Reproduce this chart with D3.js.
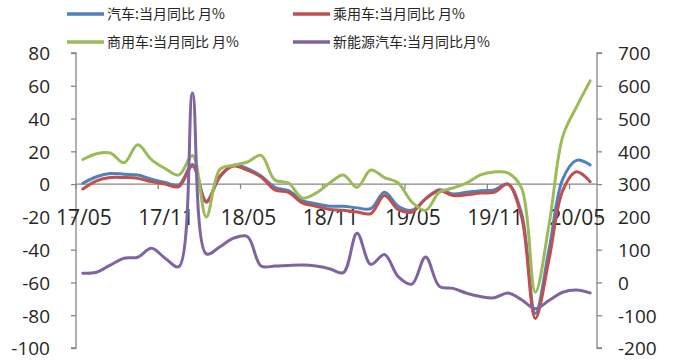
<!DOCTYPE html>
<html>
<head>
<meta charset="utf-8">
<script src="https://cdn.jsdelivr.net/npm/d3@7"></script>
<style>
  html, body { margin: 0; padding: 0; background: #fff; }
  svg { display: block; }
</style>
</head>
<body>
<svg id="chart" width="675" height="360"></svg>
<script>
// Monthly year-on-year growth (%), 2017/05 – 2020/06
const months = [
  "17/05","17/06","17/07","17/08","17/09","17/10","17/11","17/12",
  "18/01","18/02","18/03","18/04","18/05","18/06","18/07","18/08",
  "18/09","18/10","18/11","18/12","19/01","19/02","19/03","19/04",
  "19/05","19/06","19/07","19/08","19/09","19/10","19/11","19/12",
  "20/01","20/02","20/03","20/04","20/05","20/06"
];

// 汽车 (all vehicles) – left axis
const autoYoY = [
  0.5, 4.5, 6.5, 6, 5.5, 3, 1, -0.5,
  12, -10.5, 4.5, 11.5, 9.5, 5, -2, -4,
  -10, -12, -13.5, -13.5, -14.5, -15, -5, -13.5,
  -16, -9, -3.5, -6, -5, -4, -3.5, 0,
  -18, -79, -40, 3, 14.5, 11.7
];

// 乘用车 (passenger cars) – left axis
const passengerYoY = [
  -3, 2, 4, 4, 3.5, 1.5, 0, -1.5,
  11, -11, 5, 11, 8.5, 4.3, -3.5, -5,
  -11.5, -13.5, -15.5, -16, -17, -18, -7, -15.5,
  -17, -9, -4, -7, -6.5, -5.5, -5, 0,
  -20, -82, -46, -4, 7.5, 1.5
];

// 商用车 (commercial vehicles) – left axis
const commercialYoY = [
  15, 18.5, 19, 13, 24, 15, 9.5, 5.5,
  17.5, -20, 9, 11.5, 13.5, 17.5, 2.5, 0.7,
  -8.5, -5.5, 0.7, 5.6, -2, 8.6, 4, 0.7,
  -11, -16, -5, -2.4, 0.7, 5.6, 7.4, 6.8,
  -2.4, -66, -25, 29, 47, 63
];

// 新能源汽车 (new energy vehicles) – right axis
const nevYoY = [
  28, 31, 53, 74, 77, 104, 74, 48,
  578, 87, 109, 135, 140, 50, 50, 52,
  53, 50, 42, 30, 150, 55, 85, 18,
  -5, 78, -12, -18, -33, -43, -47, -32,
  -53, -80, -55, -30, -23, -32
];

const leftTicks  = [-100, -80, -60, -40, -20, 0, 20, 40, 60, 80];
const rightTicks = [-200, -100, 0, 100, 200, 300, 400, 500, 600, 700];
const xTickLabels = ["17/05","17/11","18/05","18/11","19/05","19/11","20/05"];

const seriesNames = [
  "汽车:当月同比 月%",
  "乘用车:当月同比 月%",
  "商用车:当月同比 月%",
  "新能源汽车:当月同比月%"
];
const seriesColors = ["#4F81BD", "#C0504D", "#9BBB59", "#8064A2"];

const svg = d3.select("#chart");
const plot = { left: 76, right: 597, top: 53, bottom: 348 };
const axisColor = "#868686";
const textColor = "#262626";
const numFont = "'Open Sans', 'Liberation Sans', sans-serif";
const cjkFont = "'Noto Sans CJK SC', 'Noto Sans', sans-serif";
const plainNumber = d => String(d); // hyphen-minus, as in the axis labels

const x = d3.scaleBand().domain(months).range([plot.left, plot.right]).paddingInner(0).paddingOuter(0);
const xc = m => x(m) + x.bandwidth() / 2;
const yL = d3.scaleLinear().domain([-100, 80]).range([plot.bottom, plot.top]);
const yR = d3.scaleLinear().domain([-200, 700]).range([plot.bottom, plot.top]);

// Left axis
const gL = svg.append("g").attr("transform", `translate(${plot.left},0)`)
  .call(d3.axisLeft(yL).tickValues(leftTicks).tickSize(5).tickPadding(21).tickFormat(plainNumber));
// Right axis
const gR = svg.append("g").attr("transform", `translate(${plot.right},0)`)
  .call(d3.axisRight(yR).tickValues(rightTicks).tickSize(5).tickPadding(16).tickFormat(plainNumber));
[gL, gR].forEach(g => {
  g.select(".domain").attr("stroke", axisColor).attr("stroke-width", 1.3);
  g.selectAll(".tick line").attr("stroke", axisColor).attr("stroke-width", 1.3);
  g.selectAll(".tick text")
    .attr("fill", textColor)
    .attr("font-family", numFont)
    .attr("font-size", 19)
    .attr("dy", "0.36em");
});
gL.select(".domain").attr("d", `M-5,${plot.top}H0V${plot.bottom}H-5`);
gR.select(".domain").attr("d", `M5,${plot.top}H0V${plot.bottom}H5`);

// Category axis crossing at zero
const y0 = yL(0);
const gX = svg.append("g");
gX.append("line")
  .attr("x1", plot.left).attr("x2", plot.right)
  .attr("y1", y0).attr("y2", y0)
  .attr("stroke", axisColor).attr("stroke-width", 1.3);
gX.selectAll("line.tick").data(xTickLabels).join("line")
  .attr("class", "tick")
  .attr("x1", d => x(d)).attr("x2", d => x(d))
  .attr("y1", y0).attr("y2", y0 + 5)
  .attr("stroke", axisColor).attr("stroke-width", 1.3);
gX.selectAll("text").data(xTickLabels).join("text")
  .attr("x", d => xc(d) + 1)
  .attr("y", yL(-20) + 8)
  .attr("text-anchor", "middle")
  .attr("font-family", numFont)
  .attr("font-size", 21)
  .attr("fill", textColor)
  .text(d => d);

// Smoothed series lines
const lineL = d3.line().x((d, i) => xc(months[i])).y(d => yL(d)).curve(d3.curveCatmullRom.alpha(0.5));
const lineR = d3.line().x((d, i) => xc(months[i])).y(d => yR(d)).curve(d3.curveCatmullRom.alpha(0.5));

const series = [
  { values: autoYoY, line: lineL },
  { values: passengerYoY, line: lineL },
  { values: commercialYoY, line: lineL },
  { values: nevYoY, line: lineR }
];
svg.append("g").selectAll("path").data(series).join("path")
  .attr("d", d => d.line(d.values))
  .attr("fill", "none")
  .attr("stroke", (d, i) => seriesColors[i])
  .attr("stroke-width", 3)
  .attr("stroke-linejoin", "round")
  .attr("stroke-linecap", "round");

// Legend (two rows, two columns)
const legendPos = [
  { x: 67, y: 14 }, { x: 293, y: 14 },
  { x: 67, y: 42 }, { x: 293, y: 42 }
];
const lg = svg.append("g").selectAll("g").data(seriesNames).join("g")
  .attr("transform", (d, i) => `translate(${legendPos[i].x},${legendPos[i].y})`);
lg.append("line")
  .attr("x1", 0).attr("x2", 37).attr("y1", 0).attr("y2", 0)
  .attr("stroke", (d, i) => seriesColors[i])
  .attr("stroke-width", 3.5);
lg.append("text")
  .attr("x", 40).attr("y", 5)
  .attr("font-family", cjkFont)
  .attr("font-size", 14)
  .attr("fill", textColor)
  .text(d => d);
</script>
</body>
</html>
